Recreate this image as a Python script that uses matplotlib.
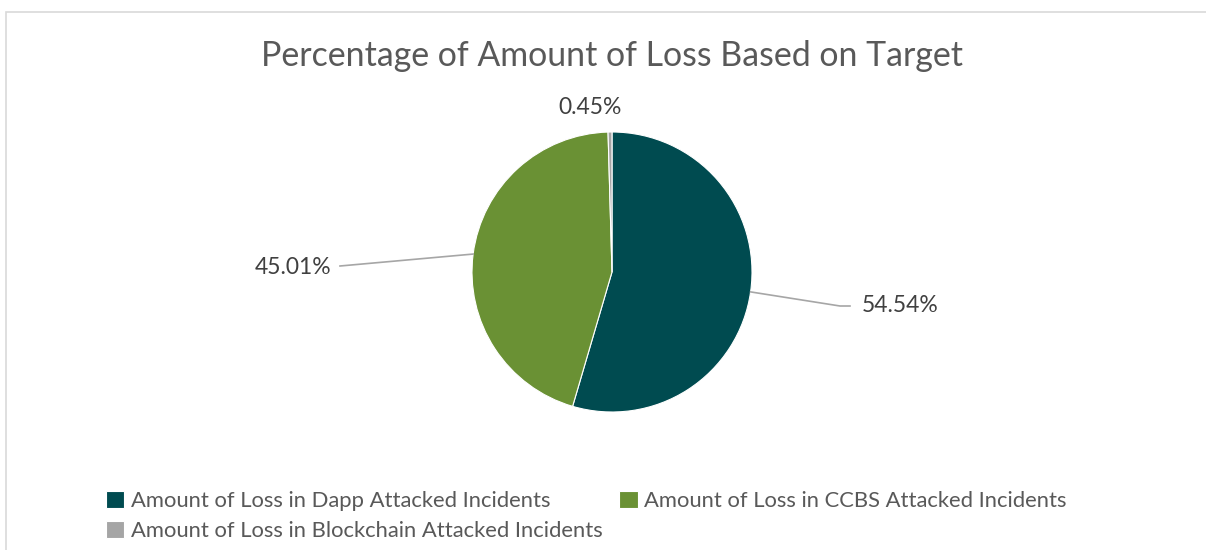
import numpy as np
import matplotlib
matplotlib.use("Agg")
import matplotlib.pyplot as plt
from matplotlib.patches import Rectangle

plt.rcParams['font.family'] = ['Lato', 'DejaVu Sans']

# loss share per attack target (%)
targets = ['Amount of Loss in Dapp Attacked Incidents',
           'Amount of Loss in CCBS Attacked Incidents',
           'Amount of Loss in Blockchain Attacked Incidents']
shares = [54.54, 45.01, 0.45]
colors = ['#004B50', '#6A9134', '#A5A5A5']

W, H = 1206, 550
fig = plt.figure(figsize=(W / 100, H / 100), dpi=100)
fig.patch.set_facecolor('white')

# chart area border
fig.patches.append(Rectangle((6 / W, -0.1), 1.2, (H - 12) / H + 0.1,
                             transform=fig.transFigure, fill=False,
                             edgecolor='#D9D9D9', linewidth=1.2))

ax = fig.add_axes([0, 0, 1, 1])
cx, cy, r = 612, H - 272, 140
wedges, _ = ax.pie(shares, colors=colors, startangle=90, counterclock=False,
                   center=(cx, cy), radius=r,
                   wedgeprops=dict(linewidth=0.8, edgecolor='white'))
ax.set_xlim(0, W)
ax.set_ylim(0, H)
ax.set_aspect('equal')
ax.axis('off')

fig.text(612 / W, 1 - 56 / H, 'Percentage of Amount of Loss Based on Target',
         ha='center', va='center', fontsize=24.4, color='#595959')

label_color = '#404040'
line_color = '#A6A6A6'

def edge_point(w):
    ang = np.deg2rad((w.theta1 + w.theta2) / 2)
    return cx + r * np.cos(ang), cy + r * np.sin(ang)

# Dapp label with leader line
x0, y0 = edge_point(wedges[0])
ax.plot([x0, 840, 850], [y0, H - 306, H - 306], color=line_color, lw=1.2)
ax.text(862, H - 306, f'{shares[0]:.2f}%', ha='left', va='center',
        fontsize=16.5, color=label_color)

# CCBS label with leader line
x1, y1 = edge_point(wedges[1])
ax.plot([x1, 340], [y1, H - 266], color=line_color, lw=1.2)
ax.text(331, H - 268, f'{shares[1]:.2f}%', ha='right', va='center',
        fontsize=16.5, color=label_color)

# Blockchain label, sitting above the pie
x2, y2 = edge_point(wedges[2])
ax.text(x2 - 20, H - 107, f'{shares[2]:.2f}%', ha='center', va='center',
        fontsize=16.5, color=label_color)

order = [0, 2, 1]
fig.legend([wedges[i] for i in order], [targets[i] for i in order],
           ncol=2, loc='upper left', bbox_to_anchor=(86 / W, 1 - 471 / H),
           frameon=False, fontsize=15.8, labelcolor='#595959',
           handlelength=0.85, handleheight=0.85, handletextpad=0.3,
           columnspacing=0.75, labelspacing=0.45)

fig.savefig('out.png', dpi=100, facecolor='white')
